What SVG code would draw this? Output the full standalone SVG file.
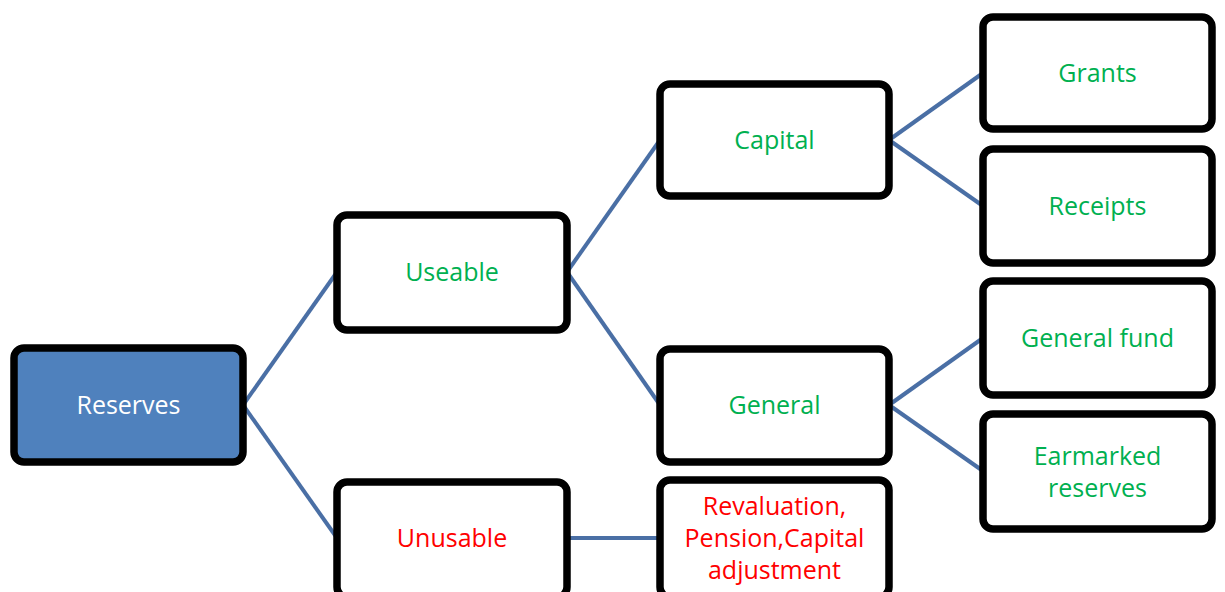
<svg xmlns="http://www.w3.org/2000/svg" width="1225" height="592" viewBox="0 0 1225 592">
<style>
.box{fill:#ffffff;stroke:#000000;stroke-width:7.5}
.root{fill:#4F81BD;stroke:#000000;stroke-width:7.5}
.lbl{font-family:"Open Sans","Liberation Sans",sans-serif;font-size:25px;text-anchor:middle;dominant-baseline:central}
.g{fill:#00B050}.r{fill:#FF0000}.w{fill:#ffffff}
.conn line{stroke:#4A6FA5;stroke-width:4;fill:none}
</style>
<rect width="1225" height="592" fill="#ffffff"/>
<g class="conn">
<line x1="243" y1="405" x2="337" y2="272"/>
<line x1="243" y1="405" x2="337" y2="538"/>
<line x1="567" y1="272" x2="660" y2="140"/>
<line x1="567" y1="272" x2="660" y2="405"/>
<line x1="889" y1="140" x2="983" y2="73"/>
<line x1="889" y1="140" x2="983" y2="206"/>
<line x1="889" y1="405" x2="983" y2="338"/>
<line x1="889" y1="405" x2="983" y2="471"/>
<line x1="567" y1="538" x2="660" y2="538"/>
</g>
<g id="reserves"><rect class="root" x="14" y="348" width="229" height="114" rx="10"/><text class="lbl w" x="128.5" y="404">Reserves</text></g>
<g id="useable"><rect class="box" x="337" y="215" width="230" height="115" rx="10"/><text class="lbl g" x="452" y="271">Useable</text></g>
<g id="unusable"><rect class="box" x="337" y="482" width="230" height="115" rx="10"/><text class="lbl r" x="452" y="537">Unusable</text></g>
<g id="capital"><rect class="box" x="660" y="84" width="229" height="112" rx="10"/><text class="lbl g" x="774.5" y="139">Capital</text></g>
<g id="general"><rect class="box" x="660" y="349" width="229" height="113" rx="10"/><text class="lbl g" x="774.5" y="404">General</text></g>
<g id="revaluation"><rect class="box" x="660" y="480" width="229" height="117" rx="10"/><text class="lbl r" x="774.5" y="505">Revaluation,</text><text class="lbl r" x="774.5" y="537">Pension,Capital</text><text class="lbl r" x="774.5" y="569">adjustment</text></g>
<g id="grants"><rect class="box" x="983" y="17" width="229" height="112" rx="10"/><text class="lbl g" x="1097.5" y="72">Grants</text></g>
<g id="receipts"><rect class="box" x="983" y="149" width="229" height="114" rx="10"/><text class="lbl g" x="1097.5" y="205">Receipts</text></g>
<g id="general-fund"><rect class="box" x="983" y="281" width="229" height="114" rx="10"/><text class="lbl g" x="1097.5" y="337">General fund</text></g>
<g id="earmarked"><rect class="box" x="983" y="414" width="229" height="115" rx="10"/><text class="lbl g" x="1097.5" y="455">Earmarked</text><text class="lbl g" x="1097.5" y="487">reserves</text></g>
</svg>
